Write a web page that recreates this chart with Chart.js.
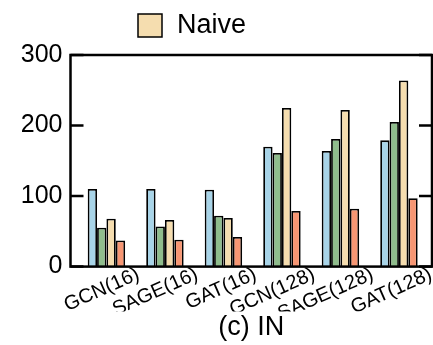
<!DOCTYPE html>
<html>
<head>
<meta charset="utf-8">
<script src="https://cdn.jsdelivr.net/npm/chart.js@4"></script>
<style>
  html, body { margin: 0; padding: 0; background: #fff; }
  #wrap { width: 433px; height: 345px; }
</style>
</head>
<body>
<div id="wrap"><canvas id="myChart"></canvas></div>
<script>
const categories = ["GCN(16)", "SAGE(16)", "GAT(16)", "GCN(128)", "SAGE(128)", "GAT(128)"];
const blueValues = [110, 110, 109, 170, 164, 179];
const greenValues = [55, 57, 72, 161, 181, 205];
const naiveValues = [68, 66, 69, 225, 222, 264];
const redValues = [37, 38, 42, 79, 82, 97];
const yTicks = [0, 100, 200, 300];

const FONT = "'Liberation Sans', Arial, Helvetica, sans-serif";

function toPoints(values) {
  return values.map((v, i) => ({ x: i, y: v }));
}

function makeDataset(label, values, color) {
  return {
    label: label,
    data: toPoints(values),
    backgroundColor: color,
    borderColor: "#000",
    borderWidth: 1.8,
    categoryPercentage: 0.64,
    barPercentage: 1,
  };
}

// box round the plot, inward ticks on both sides, and the one legend entry
const framePlugin = {
  id: "frame",
  afterDatasetsDraw(chart) {
    const { ctx, chartArea: a, scales } = chart;
    ctx.save();
    ctx.strokeStyle = "#000";
    ctx.lineWidth = 2.5;
    ctx.strokeRect(a.left, a.top, a.width, a.height);
    yTicks.forEach((v) => {
      const py = scales.y.getPixelForValue(v);
      ctx.beginPath();
      ctx.moveTo(a.left, py);
      ctx.lineTo(a.left + 13, py);
      ctx.moveTo(a.right - 13, py);
      ctx.lineTo(a.right, py);
      ctx.stroke();
    });

    // legend: only the "Naive" entry shows in the frame
    ctx.fillStyle = chart.data.datasets[2].backgroundColor;
    ctx.fillRect(138, 14, 24, 23);
    ctx.lineWidth = 1.5;
    ctx.strokeRect(138, 14, 24, 23);
    ctx.fillStyle = "#000";
    ctx.font = "27px " + FONT;
    ctx.textBaseline = "middle";
    ctx.textAlign = "left";
    ctx.fillText(chart.data.datasets[2].label, 177, 26);
    ctx.restore();
  },
};

new Chart(document.getElementById("myChart"), {
  type: "bar",
  data: {
    datasets: [
      makeDataset("Blue", blueValues, "rgb(168, 212, 232)"),
      makeDataset("Green", greenValues, "rgb(143, 189, 140)"),
      makeDataset("Naive", naiveValues, "rgb(245, 221, 175)"),
      makeDataset("Red", redValues, "rgb(247, 150, 115)"),
    ],
  },
  options: {
    responsive: true,
    maintainAspectRatio: false,
    animation: false,
    layout: {
      padding: { left: 0, right: 1, top: 55, bottom: 1 },
    },
    plugins: {
      legend: { display: false },
      tooltip: { enabled: false },
      title: {
        display: true,
        text: "(c) IN",
        position: "bottom",
        fullSize: false,
        color: "#000",
        font: { family: FONT, size: 27, weight: "normal", lineHeight: 1.2 },
        padding: 0,
      },
    },
    scales: {
      x: {
        type: "linear",
        offset: false,
        min: -0.614,
        max: 5.565,
        afterBuildTicks: (scale) => {
          scale.ticks = categories.map((_, i) => ({ value: i }));
        },
        afterFit: (scale) => {
          scale.height = 45;
          scale.paddingLeft = 0;
          scale.paddingRight = 0;
        },
        grid: { display: false, drawTicks: false, offset: false },
        border: { display: false },
        ticks: {
          autoSkip: false,
          minRotation: 24,
          maxRotation: 24,
          labelOffset: 32,
          padding: -4,
          color: "#000",
          font: { family: FONT, size: 20 },
          callback: (value) => categories[value],
        },
      },
      y: {
        min: 0,
        max: 300,
        afterBuildTicks: (scale) => {
          scale.ticks = yTicks.map((v) => ({ value: v }));
        },
        afterFit: (scale) => {
          scale.width = 70.5;
          scale.paddingTop = 0;
          scale.paddingBottom = 0;
        },
        grid: { display: false, drawTicks: false },
        border: { display: false },
        ticks: {
          padding: 8,
          color: "#000",
          font: { family: FONT, size: 25 },
        },
      },
    },
  },
  plugins: [framePlugin],
});
</script>
</body>
</html>
